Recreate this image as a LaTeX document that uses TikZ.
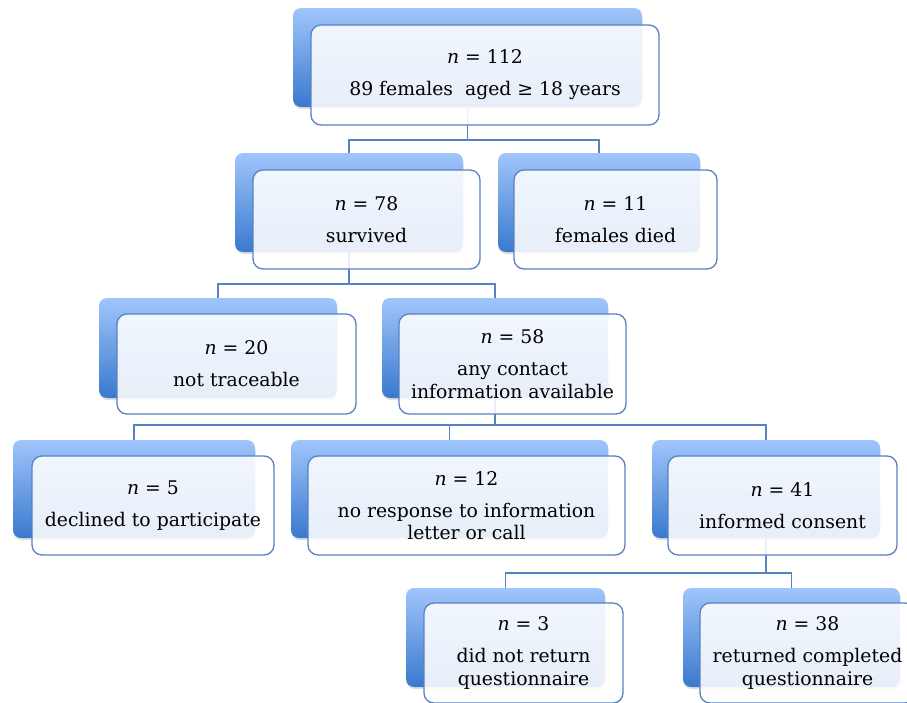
\documentclass[tikz,border=0pt]{standalone}
\usepackage{fontspec}
\setmainfont{DejaVu Serif}
\usetikzlibrary{shadows}
\definecolor{bktop}{RGB}{160,197,251}
\definecolor{bkmid}{RGB}{125,170,238}
\definecolor{bkbot}{RGB}{58,121,206}
\definecolor{edge}{RGB}{86,130,192}
\tikzset{
  backbox/.style={rectangle, rounded corners=8pt, draw=none, inner sep=0pt,
    top color=bktop, middle color=bkmid, bottom color=bkbot,
    drop shadow={opacity=0.25, shadow xshift=0.5pt, shadow yshift=-2pt},
    minimum width=#1},
  frontbox/.style={rectangle, rounded corners=10pt, draw=edge, line width=1.3pt,
    fill=white, fill opacity=0.88, text opacity=1, inner sep=0pt, align=center,
    font=\fontsize{18.8}{22.5}\selectfont, minimum width=#1},
  conn/.style={draw=edge, line width=1.3pt},
}
\begin{document}
\begin{tikzpicture}[x=1pt, y=-1pt]
\useasboundingbox (0,0) rectangle (907,702);
\clip (0,0) rectangle (907,702);
% junctions
\coordinate (j1) at (467.5,140);
\coordinate (j2) at (349,284);
\coordinate (j3) at (495,425);
\coordinate (j4) at (766,573);
% back boxes
\node[backbox=349pt, minimum height=99pt] (b1) at (467.5,57.5) {};
\node[backbox=228pt, minimum height=99pt] (b2) at (349,202.5) {};
\node[backbox=202pt, minimum height=99pt] (b3) at (599,202.5) {};
\node[backbox=238pt, minimum height=100pt] (b4) at (218,348) {};
\node[backbox=226pt, minimum height=100pt] (b5) at (495,348) {};
\node[backbox=242pt, minimum height=98pt] (b6) at (134,489) {};
\node[backbox=317pt, minimum height=98pt] (b7) at (449.5,489) {};
\node[backbox=228pt, minimum height=98pt] (b8) at (766,489) {};
\node[backbox=199pt, minimum height=99pt] (b9) at (505.5,637.5) {};
\node[backbox=217pt, minimum height=99pt] (b10) at (791.5,637.5) {};
% connectors
\draw[conn] (b1.south) -- (j1) -| (b2.north);
\draw[conn] (j1) -| (b3.north);
\draw[conn] (b2.south) -- (j2) -| (b4.north);
\draw[conn] (j2) -| (b5.north);
\draw[conn] (b5.south) -- (j3) -| (b6.north);
\draw[conn] (j3) -| (b7.north);
\draw[conn] (j3) -| (b8.north);
\draw[conn] (b8.south) -- (j4) -| (b9.north);
\draw[conn] (j4) -| (b10.north);
% front boxes
\node[frontbox=348pt, minimum height=100pt] (f1) at (485,75)
  {\textit{n} = 112\\[9.5pt] 89 females~ aged ≥ 18 years};
\node[frontbox=227pt, minimum height=99pt] (f2) at (366.5,219.5)
  {\textit{n} = 78\\[9.5pt] survived};
\node[frontbox=203pt, minimum height=99pt] (f3) at (615.5,219.5)
  {\textit{n} = 11\\[9.5pt] females died};
\node[frontbox=239pt, minimum height=100pt] (f4) at (236.5,364)
  {\textit{n} = 20\\[9.5pt] not traceable};
\node[frontbox=227pt, minimum height=100pt] (f5) at (512.5,364)
  {\textit{n} = 58\\[9.5pt] any contact\\ information available};
\node[frontbox=242pt, minimum height=99pt] (f6) at (153,505.5)
  {\textit{n} = 5\\[9.5pt] declined to participate};
\node[frontbox=317pt, minimum height=99pt] (f7) at (466.5,505.5)
  {\textit{n} = 12\\[9.5pt] no response to information\\ letter or call};
\node[frontbox=229pt, minimum height=99pt] (f8) at (782.5,505.5)
  {\textit{n} = 41\\[9.5pt] informed consent};
\node[frontbox=199pt, minimum height=100pt] (f9) at (523.5,653)
  {\textit{n} = 3\\[9.5pt] did not return\\ questionnaire};
\node[frontbox=215pt, minimum height=100pt] (f10) at (807.5,653)
  {\textit{n} = 38\\[9.5pt] returned completed\\ questionnaire};
\end{tikzpicture}
\end{document}
